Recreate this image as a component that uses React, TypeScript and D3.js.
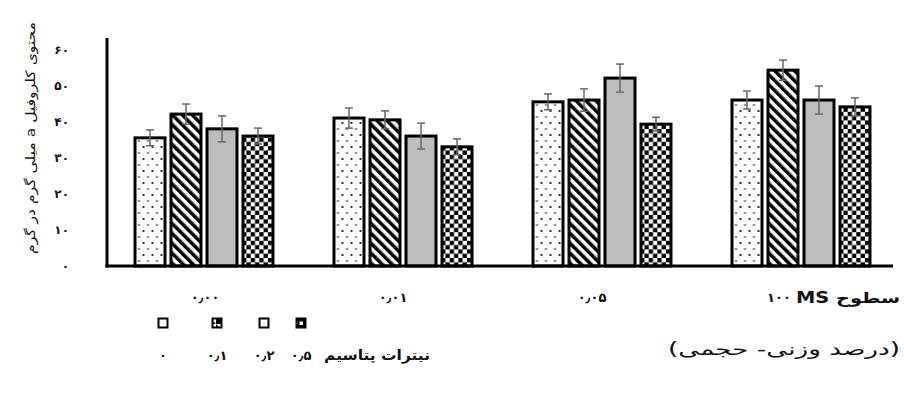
import React from "react";
import * as d3 from "d3";

const categories = ["۰٫۰۰", "۰٫۰۱", "۰٫۰۵", "۱۰۰"];
const seriesNames = ["۰", "۰٫۱", "۰٫۲", "۰٫۵"];
const s0 = [35.6, 41.1, 45.6, 46.1];
const s1 = [42.2, 40.6, 46.1, 54.4];
const s2 = [38.1, 36.1, 52.2, 46.1];
const s3 = [36.1, 33.1, 39.4, 44.2];
const e0 = [2.2, 2.8, 2.2, 2.5];
const e1 = [2.8, 2.5, 3.1, 2.8];
const e2 = [3.6, 3.6, 3.9, 3.9];
const e3 = [2.2, 2.2, 1.9, 2.5];
const yTicks = [0, 10, 20, 30, 40, 50, 60];
const yTitle = "محتوی کلروفیل a میلی گرم در گرم";
const xTitle1 = "سطوح MS";
const xTitle2 = "(درصد وزنی- حجمی)";
const legendTitle = "نیترات پتاسیم";

const W = 904;
const H = 401;
const FA = "'DejaVu Sans', sans-serif";

const toFa = (n: number) => String(n).replace(/\d/g, (d) => "۰۱۲۳۴۵۶۷۸۹"[+d]);

export default function App() {
  const values = [s0, s1, s2, s3];
  const errs = [e0, e1, e2, e3];
  const x0 = d3.scaleBand<string>().domain(categories).range([104.5, 900.5]).padding(0);
  const x1 = d3.scaleBand<string>().domain(seriesNames).range([30.5, 168.5]).paddingInner(1 / 6).paddingOuter(0);
  const y = d3.scaleLinear().domain([0, 60]).range([266, 50]);
  const fills = ["url(#pDots)", "url(#pDiag)", "#bdbdbd", "url(#pCheck)"];
  const legendX = [163, 217, 264, 301];

  return (
    <svg width={W} height={H} style={{ position: "absolute", left: 0, top: 0, background: "#fff" }}>
      <defs>
        <pattern id="pDots" patternUnits="userSpaceOnUse" width="9" height="12">
          <rect width="9" height="12" fill="#fff" />
          <rect x="2" y="2" width="2" height="2" fill="#333" />
          <rect x="6.5" y="8" width="2" height="2" fill="#777" />
        </pattern>
        <pattern id="pDiag" patternUnits="userSpaceOnUse" width="7" height="7" patternTransform="rotate(-45)">
          <rect width="7" height="7" fill="#fff" />
          <rect width="3.5" height="7" fill="#000" />
        </pattern>
        <pattern id="pCheck" patternUnits="userSpaceOnUse" width="8.6" height="8.6">
          <rect width="8.6" height="8.6" fill="#fff" />
          <rect width="4.3" height="4.3" fill="#000" />
          <rect x="4.3" y="4.3" width="4.3" height="4.3" fill="#000" />
        </pattern>
        <pattern id="lDiag" patternUnits="userSpaceOnUse" width="9" height="9">
          <rect width="9" height="9" fill="#fff" />
          <path d="M0,0 L9,9 L0,9 Z" fill="#000" />
        </pattern>
      </defs>

      {/* y axis title */}
      <text
        transform={`translate(31,138) rotate(-90)`}
        textAnchor="middle"
        dominantBaseline="middle"
        fontFamily={FA}
        fontSize={13}
        fill="#111"
        direction="rtl"
        textLength={232}
        lengthAdjust="spacingAndGlyphs"
      >
        {yTitle}
      </text>

      {/* y tick labels */}
      {yTicks.map((t) => (
        <text
          key={t}
          x={69}
          y={y(t)}
          textAnchor="end"
          dominantBaseline="middle"
          fontFamily={FA}
          fontWeight="bold"
          fontSize={12}
          fill="#111"
        >
          {toFa(t)}
        </text>
      ))}

      {/* bars */}
      {categories.map((c, ci) => (
        <g key={c} transform={`translate(${x0(c)},0)`}>
          {seriesNames.map((s, si) => {
            const v = values[si][ci];
            const e = errs[si][ci];
            const bx = x1(s)!;
            const bw = x1.bandwidth();
            const cx = bx + bw / 2;
            return (
              <g key={s}>
                <rect x={bx} y={y(v)} width={bw} height={y(0) - y(v)} fill={fills[si]} stroke="#000" strokeWidth={3} />
                <line x1={cx} x2={cx} y1={y(v + e)} y2={y(v - e)} stroke="#666" strokeWidth={1.5} />
                <line x1={cx - 4} x2={cx + 4} y1={y(v + e)} y2={y(v + e)} stroke="#666" strokeWidth={1.5} />
                <line x1={cx - 4} x2={cx + 4} y1={y(v - e)} y2={y(v - e)} stroke="#666" strokeWidth={1.5} />
              </g>
            );
          })}
        </g>
      ))}

      {/* axes */}
      <line x1={107} x2={107} y1={38} y2={y(0) + 1.5} stroke="#000" strokeWidth={3} />
      <line x1={105.5} x2={893} y1={y(0)} y2={y(0)} stroke="#000" strokeWidth={3} />

      {/* x tick labels */}
      {categories.map((c, ci) => (
        <text
          key={c}
          x={x0(c)! + x0.bandwidth() / 2 + (ci === 0 ? 1 : ci === 3 ? -22 : -10)}
          y={298}
          textAnchor="middle"
          dominantBaseline="middle"
          fontFamily={FA}
          fontWeight="bold"
          fontSize={13}
          fill="#111"
        >
          {c}
        </text>
      ))}
      <text
        x={900}
        y={298}
        textAnchor="start"
        dominantBaseline="middle"
        fontFamily={FA}
        fontWeight="bold"
        fontSize={15}
        fill="#111"
        direction="rtl"
        textLength={104}
        lengthAdjust="spacingAndGlyphs"
      >
        {xTitle1}
      </text>
      <text
        x={900}
        y={350}
        textAnchor="start"
        dominantBaseline="middle"
        fontFamily={FA}
        fontSize={17}
        fill="#111"
        direction="rtl"
        textLength={232}
        lengthAdjust="spacingAndGlyphs"
      >
        {xTitle2}
      </text>

      {/* legend */}
      {seriesNames.map((s, si) => (
        <g key={s}>
          <rect
            x={legendX[si] - 4.5}
            y={318.5}
            width={9}
            height={9}
            fill={si === 1 ? "url(#lDiag)" : si === 3 ? "#000" : "#fff"}
            stroke="#000"
            strokeWidth={2}
          />
          {si === 3 && <rect x={legendX[si] - 1.5} y={321.5} width={3.5} height={3.5} fill="#fff" />}
          <text
            x={legendX[si]}
            y={356}
            textAnchor="middle"
            dominantBaseline="middle"
            fontFamily={FA}
            fontWeight="bold"
            fontSize={13}
            fill="#111"
          >
            {s}
          </text>
        </g>
      ))}
      <text x={430} y={356} textAnchor="start" dominantBaseline="middle" fontFamily={FA} fontWeight="bold" fontSize={14} fill="#111" direction="rtl" textLength={106} lengthAdjust="spacingAndGlyphs">
        {legendTitle}
      </text>
    </svg>
  );
}
